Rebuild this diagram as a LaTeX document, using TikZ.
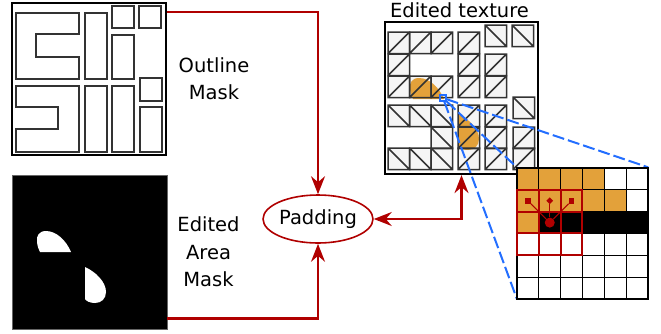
\documentclass[tikz,border=0pt]{standalone}
\usepackage{fontspec}
\setmainfont{DejaVu Sans}
\usetikzlibrary{arrows.meta,shapes.geometric}

\definecolor{edred}{RGB}{176,0,0}
\definecolor{edorange}{RGB}{227,161,58}
\definecolor{edblue}{RGB}{35,110,255}
\definecolor{cellgray}{RGB}{245,245,245}

\tikzset{
  maskbox/.style={draw=black, line width=2.2pt, inner sep=0pt},
  part/.style={draw=black!80, line width=1.5pt},
  redarrow/.style={draw=edred, line width=2.2pt, -{Stealth[length=18pt,width=14pt,inset=6pt]}},
  twoway/.style={draw=edred, line width=2.2pt, {Stealth[length=18pt,width=14pt,inset=6pt]}-{Stealth[length=18pt,width=14pt,inset=6pt]}},
  zoomline/.style={draw=edblue, line width=2pt, dash pattern=on 12pt off 4pt},
  lbl/.style={align=center, inner sep=0pt, font=\fontsize{19.5}{27.3}\selectfont},
}

% white blobs of the edited area
\newcommand{\blobA}{(40,252) -- (71,252) .. controls (66,240) and (56,231) .. (46,231)
  .. controls (39,231) and (36,236) .. (37,242) .. controls (37.5,247) and (39,250) .. (40,252) -- cycle}
\newcommand{\blobB}{(85,267) .. controls (96,272) and (106,282) .. (106,292)
  .. controls (106,299) and (101,303) .. (95,303) .. controls (90,303) and (86,301) .. (85,299) -- cycle}

\begin{document}
\begin{tikzpicture}[x=1pt, y=-1pt]
  \useasboundingbox (0,0) rectangle (661,333);
  \def\cs{21.5}
  \def\gs{21.83}

  % outline mask
  \node[maskbox, minimum width=154pt, minimum height=152pt] (outline) at (89,79) {};
  \draw[part] (16,13) -- (79,13) -- (79,34) -- (36,34) -- (36,57) -- (79,57) -- (79,79) -- (16,79) -- cycle;
  \draw[part] (16,86) -- (79,86) -- (79,152) -- (16,152) -- (16,129) -- (58,129) -- (58,107) -- (16,107) -- cycle;
  \foreach \xa/\ya/\xb/\yb in {85/13/107/79, 112/6/134/28, 139/6/161/28, 112/35/134/79,
      140/78/162/101, 85/86/107/152, 112/86/134/152, 140/107/162/152}
    \draw[part] (\xa,\ya) rectangle (\xb,\yb);
  \node[lbl] (outlbl) at (214,79) {Outline\\Mask};

  % edited area mask
  \node[maskbox, fill=black, draw=black!60, line width=0.8pt, minimum width=155pt, minimum height=154pt] (edmask) at (89.5,252) {};
  \fill[white] \blobA;
  \fill[white] \blobB;
  \node[lbl] (edlbl) at (208.5,252) {Edited\\Area\\Mask};

  % padding
  \node[lbl, ellipse, draw=edred, line width=1.6pt, minimum width=109pt, minimum height=48pt] (pad) at (318,219) {Padding};

  % edited texture
  \node[maskbox, minimum width=153pt, minimum height=152pt] (tex) at (461.5,98) {};
  \node[lbl] (textitle) at (459.5,10) {Edited texture};
  \foreach \x/\y in {388/32, 409.5/32, 431/32, 388/54, 388/76, 409.5/76, 431/76,
      458/32, 458/54, 458/76, 485/54, 485/76, 458/105, 458/127, 458/148,
      485/105, 485/127, 485/148, 513/127, 513/148, 485/25, 512/25, 513/97,
      388/105, 409.5/105, 431/105, 431/127, 388/148, 409.5/148, 431/148}
    \fill[cellgray] (\x,\y) rectangle ++(\cs,\cs);
  \begin{scope}[shift={(373,-153)}]
    \fill[edorange] \blobA;
    \fill[edorange] \blobB;
  \end{scope}
  \foreach \x/\y in {388/32, 409.5/32, 431/32, 388/54, 388/76, 409.5/76, 431/76,
      458/32, 458/54, 458/76, 485/54, 485/76, 458/105, 458/127, 458/148,
      485/105, 485/127, 485/148, 513/127, 513/148}
    \draw[part] (\x,\y) rectangle ++(\cs,\cs) (\x,\y+\cs) -- ++(\cs,-\cs);
  \foreach \x/\y in {485/25, 512/25, 513/97, 388/105, 409.5/105, 431/105,
      431/127, 388/148, 409.5/148, 431/148}
    \draw[part] (\x,\y) rectangle ++(\cs,\cs) (\x,\y) -- ++(\cs,\cs);

  % arrows
  \draw[redarrow] ([yshift=-10pt]outline.north east) -| (pad.north);
  \draw[redarrow] ([yshift=11pt]edmask.south east) -| (pad.south);
  \draw[twoway] (pad.east) -| (tex.south);

  % zoomed pixels
  \node[inner sep=0pt, minimum size=131pt] (zoomgrid) at (582.5,233) {};
  \node[draw=edblue, line width=1.3pt, inner sep=0pt, minimum size=6pt] (spot) at (443,98) {};
  \draw[zoomline] (spot) -- (zoomgrid.north west);
  \draw[zoomline] (spot) -- (zoomgrid.north east);
  \draw[zoomline] (spot) -- (zoomgrid.south west);
  \foreach \cols [count=\r] in {
      {edorange,edorange,edorange,edorange,white,white},
      {edorange,edorange,edorange,edorange,edorange,white},
      {edorange,black,black,black,black,black},
      {white,white,white,white,white,white},
      {white,white,white,white,white,white},
      {white,white,white,white,white,white}}
    \foreach \cc [count=\c] in \cols
      \filldraw[fill=\cc, draw=black, line width=1.3pt] ({517+(\c-1)*\gs},{168+(\r-1)*\gs}) rectangle ++(\gs,\gs);
  \foreach \r in {2,3,4}
    \foreach \c in {1,2,3}
      \draw[edred, line width=2pt] ({517+(\c-1)*\gs},{168+(\r-1)*\gs}) rectangle ++(\gs,\gs);
  \node[fill=edred, inner sep=0pt, minimum size=5.5pt] (m1) at (527.9,200.75) {};
  \node[diamond, fill=edred, inner sep=0pt, minimum size=7pt] (m2) at (549.75,200.75) {};
  \node[fill=edred, inner sep=0pt, minimum size=5.5pt] (m3) at (571.6,200.75) {};
  \node[circle, fill=edred, inner sep=0pt, minimum size=10pt] (src) at (549.75,222.6) {};
  \foreach \m in {m1,m2,m3}
    \draw[edred, line width=1pt] (src) -- (\m);
\end{tikzpicture}
\end{document}
